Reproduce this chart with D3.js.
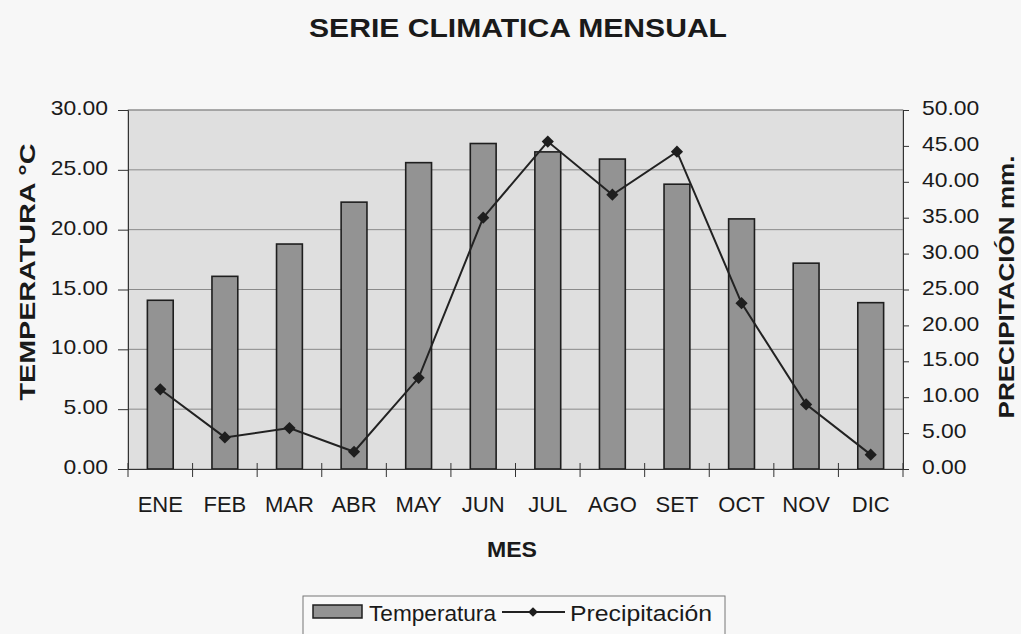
<!DOCTYPE html>
<html><head><meta charset="utf-8">
<script src="https://cdn.jsdelivr.net/npm/d3@7"></script>
<style>body{margin:0;background:#f7f7f7;} svg{display:block;font-family:"Liberation Sans",Arial,sans-serif;}</style>
</head><body><svg id="c" width="1021" height="634"></svg>
<script>
const months = ["ENE","FEB","MAR","ABR","MAY","JUN","JUL","AGO","SET","OCT","NOV","DIC"];
const temperatura = [14.1,16.1,18.8,22.3,25.6,27.2,26.5,25.9,23.8,20.9,17.2,13.9];
const precipitacion = [11.1,4.4,5.7,2.4,12.7,35.0,45.6,38.2,44.2,23.1,9.0,2.0];
const leftTicks = [0,5,10,15,20,25,30];
const rightTicks = [0,5,10,15,20,25,30,35,40,45,50];

const svg = d3.select("#c");
const m = {l:128, r:903, t:110, b:469};
const x = d3.scaleBand().domain(months).range([m.l,m.r]).paddingInner(0.6).paddingOuter(0.3);
const yL = d3.scaleLinear().domain([0,30]).range([m.b,m.t]);
const yR = d3.scaleLinear().domain([0,50]).range([m.b,m.t]);

function stretch(sel,k){ sel.each(function(){ const L=this.getComputedTextLength(); this.setAttribute("textLength",L*k); this.setAttribute("lengthAdjust","spacingAndGlyphs"); }); }
function fit(sel,len){ sel.attr("textLength",len).attr("lengthAdjust","spacingAndGlyphs"); }

svg.append("rect").attr("x",m.l).attr("y",m.t).attr("width",m.r-m.l).attr("height",m.b-m.t).attr("fill","#dfdfdf").attr("stroke","#9a9a9a");

// gridlines
svg.append("g").selectAll("line").data(leftTicks.slice(1)).join("line")
  .attr("x1",m.l).attr("x2",m.r).attr("y1",d=>yL(d)).attr("y2",d=>yL(d)).attr("stroke","#8a8a8a").attr("stroke-width",1);

// bars
svg.append("g").selectAll("rect").data(temperatura).join("rect")
  .attr("x",(d,i)=>x(months[i])).attr("width",x.bandwidth())
  .attr("y",d=>yL(d)).attr("height",d=>yL(0)-yL(d))
  .attr("fill","#939393").attr("stroke","#1e1e1e").attr("stroke-width",1.6);

// line
const line = d3.line().x((d,i)=>x(months[i])+x.bandwidth()/2).y(d=>yR(d));
svg.append("path").datum(precipitacion).attr("d",line).attr("fill","none").attr("stroke","#222").attr("stroke-width",2);
svg.append("g").selectAll("path").data(precipitacion).join("path")
  .attr("d",d3.symbol().type(d3.symbolDiamond2).size(95))
  .attr("transform",(d,i)=>`translate(${x(months[i])+x.bandwidth()/2},${yR(d)})`)
  .attr("fill","#1e1e1e");

const FONT = "Liberation Sans, Arial, sans-serif";
// left axis
const gL = svg.append("g").attr("transform",`translate(${m.l},0)`)
  .call(d3.axisLeft(yL).tickValues(leftTicks).tickFormat(d3.format(".2f")).tickSize(10).tickPadding(10));
gL.select(".domain").attr("stroke","#333");
gL.selectAll(".tick line").attr("stroke","#333");
gL.selectAll("text").attr("font-size",21).attr("fill","#1a1a1a").attr("font-family",FONT).attr("dy","0.22em");
stretch(gL.selectAll("text"),1.09);

// right axis
const gR = svg.append("g").attr("transform",`translate(${m.r},0)`)
  .call(d3.axisRight(yR).tickValues(rightTicks).tickFormat(d3.format(".2f")).tickSize(6).tickPadding(13));
gR.select(".domain").attr("stroke","#333");
gR.selectAll(".tick line").attr("stroke","#333");
gR.selectAll("text").attr("font-size",21).attr("fill","#1a1a1a").attr("font-family",FONT).attr("dy","0.22em");
stretch(gR.selectAll("text"),1.09);

// bottom axis
const gB = svg.append("g").attr("transform",`translate(0,${m.b})`)
  .call(d3.axisBottom(x).tickSize(0).tickPadding(27));
gB.select(".domain").attr("stroke","#333");
gB.selectAll("text").attr("font-size",22).attr("fill","#1a1a1a").attr("font-family",FONT);
const bounds = d3.range(13).map(i=>m.l+i*(m.r-m.l)/12);
svg.append("g").selectAll("line").data(bounds).join("line")
  .attr("x1",d=>d).attr("x2",d=>d).attr("y1",m.b-6).attr("y2",m.b+8).attr("stroke","#333");

// titles
fit(svg.append("text").attr("x",518).attr("y",37).attr("text-anchor","middle").attr("font-size",26).attr("font-weight","bold").attr("fill","#1a1a1a").text("SERIE CLIMATICA MENSUAL"),418);
fit(svg.append("text").attr("x",512).attr("y",557).attr("text-anchor","middle").attr("font-size",22).attr("font-weight","bold").attr("fill","#1a1a1a").text("MES"),50);
fit(svg.append("text").attr("transform","translate(35,272) rotate(-90)").attr("text-anchor","middle").attr("font-size",22).attr("font-weight","bold").attr("fill","#1a1a1a").text("TEMPERATURA  °C"),257);
fit(svg.append("text").attr("transform","translate(1014,287) rotate(-90)").attr("text-anchor","middle").attr("font-size",22).attr("font-weight","bold").attr("fill","#1a1a1a").text("PRECIPITACIÓN  mm."),263);

// legend
const lg = svg.append("g");
lg.append("rect").attr("x",303).attr("y",596).attr("width",422).attr("height",45).attr("fill","#f9f9f9").attr("stroke","#777");
lg.append("rect").attr("x",313).attr("y",605).attr("width",49).attr("height",13).attr("fill","#939393").attr("stroke","#1e1e1e").attr("stroke-width",1.5);
fit(lg.append("text").attr("x",369).attr("y",621).attr("font-size",22).attr("fill","#1a1a1a").text("Temperatura"),127);
lg.append("line").attr("x1",502).attr("x2",565).attr("y1",612).attr("y2",612).attr("stroke","#222").attr("stroke-width",2);
lg.append("path").attr("d",d3.symbol().type(d3.symbolDiamond2).size(60)).attr("transform","translate(533,612)").attr("fill","#1e1e1e");
fit(lg.append("text").attr("x",570).attr("y",621).attr("font-size",22).attr("fill","#1a1a1a").text("Precipitación"),142);
</script></body></html>
